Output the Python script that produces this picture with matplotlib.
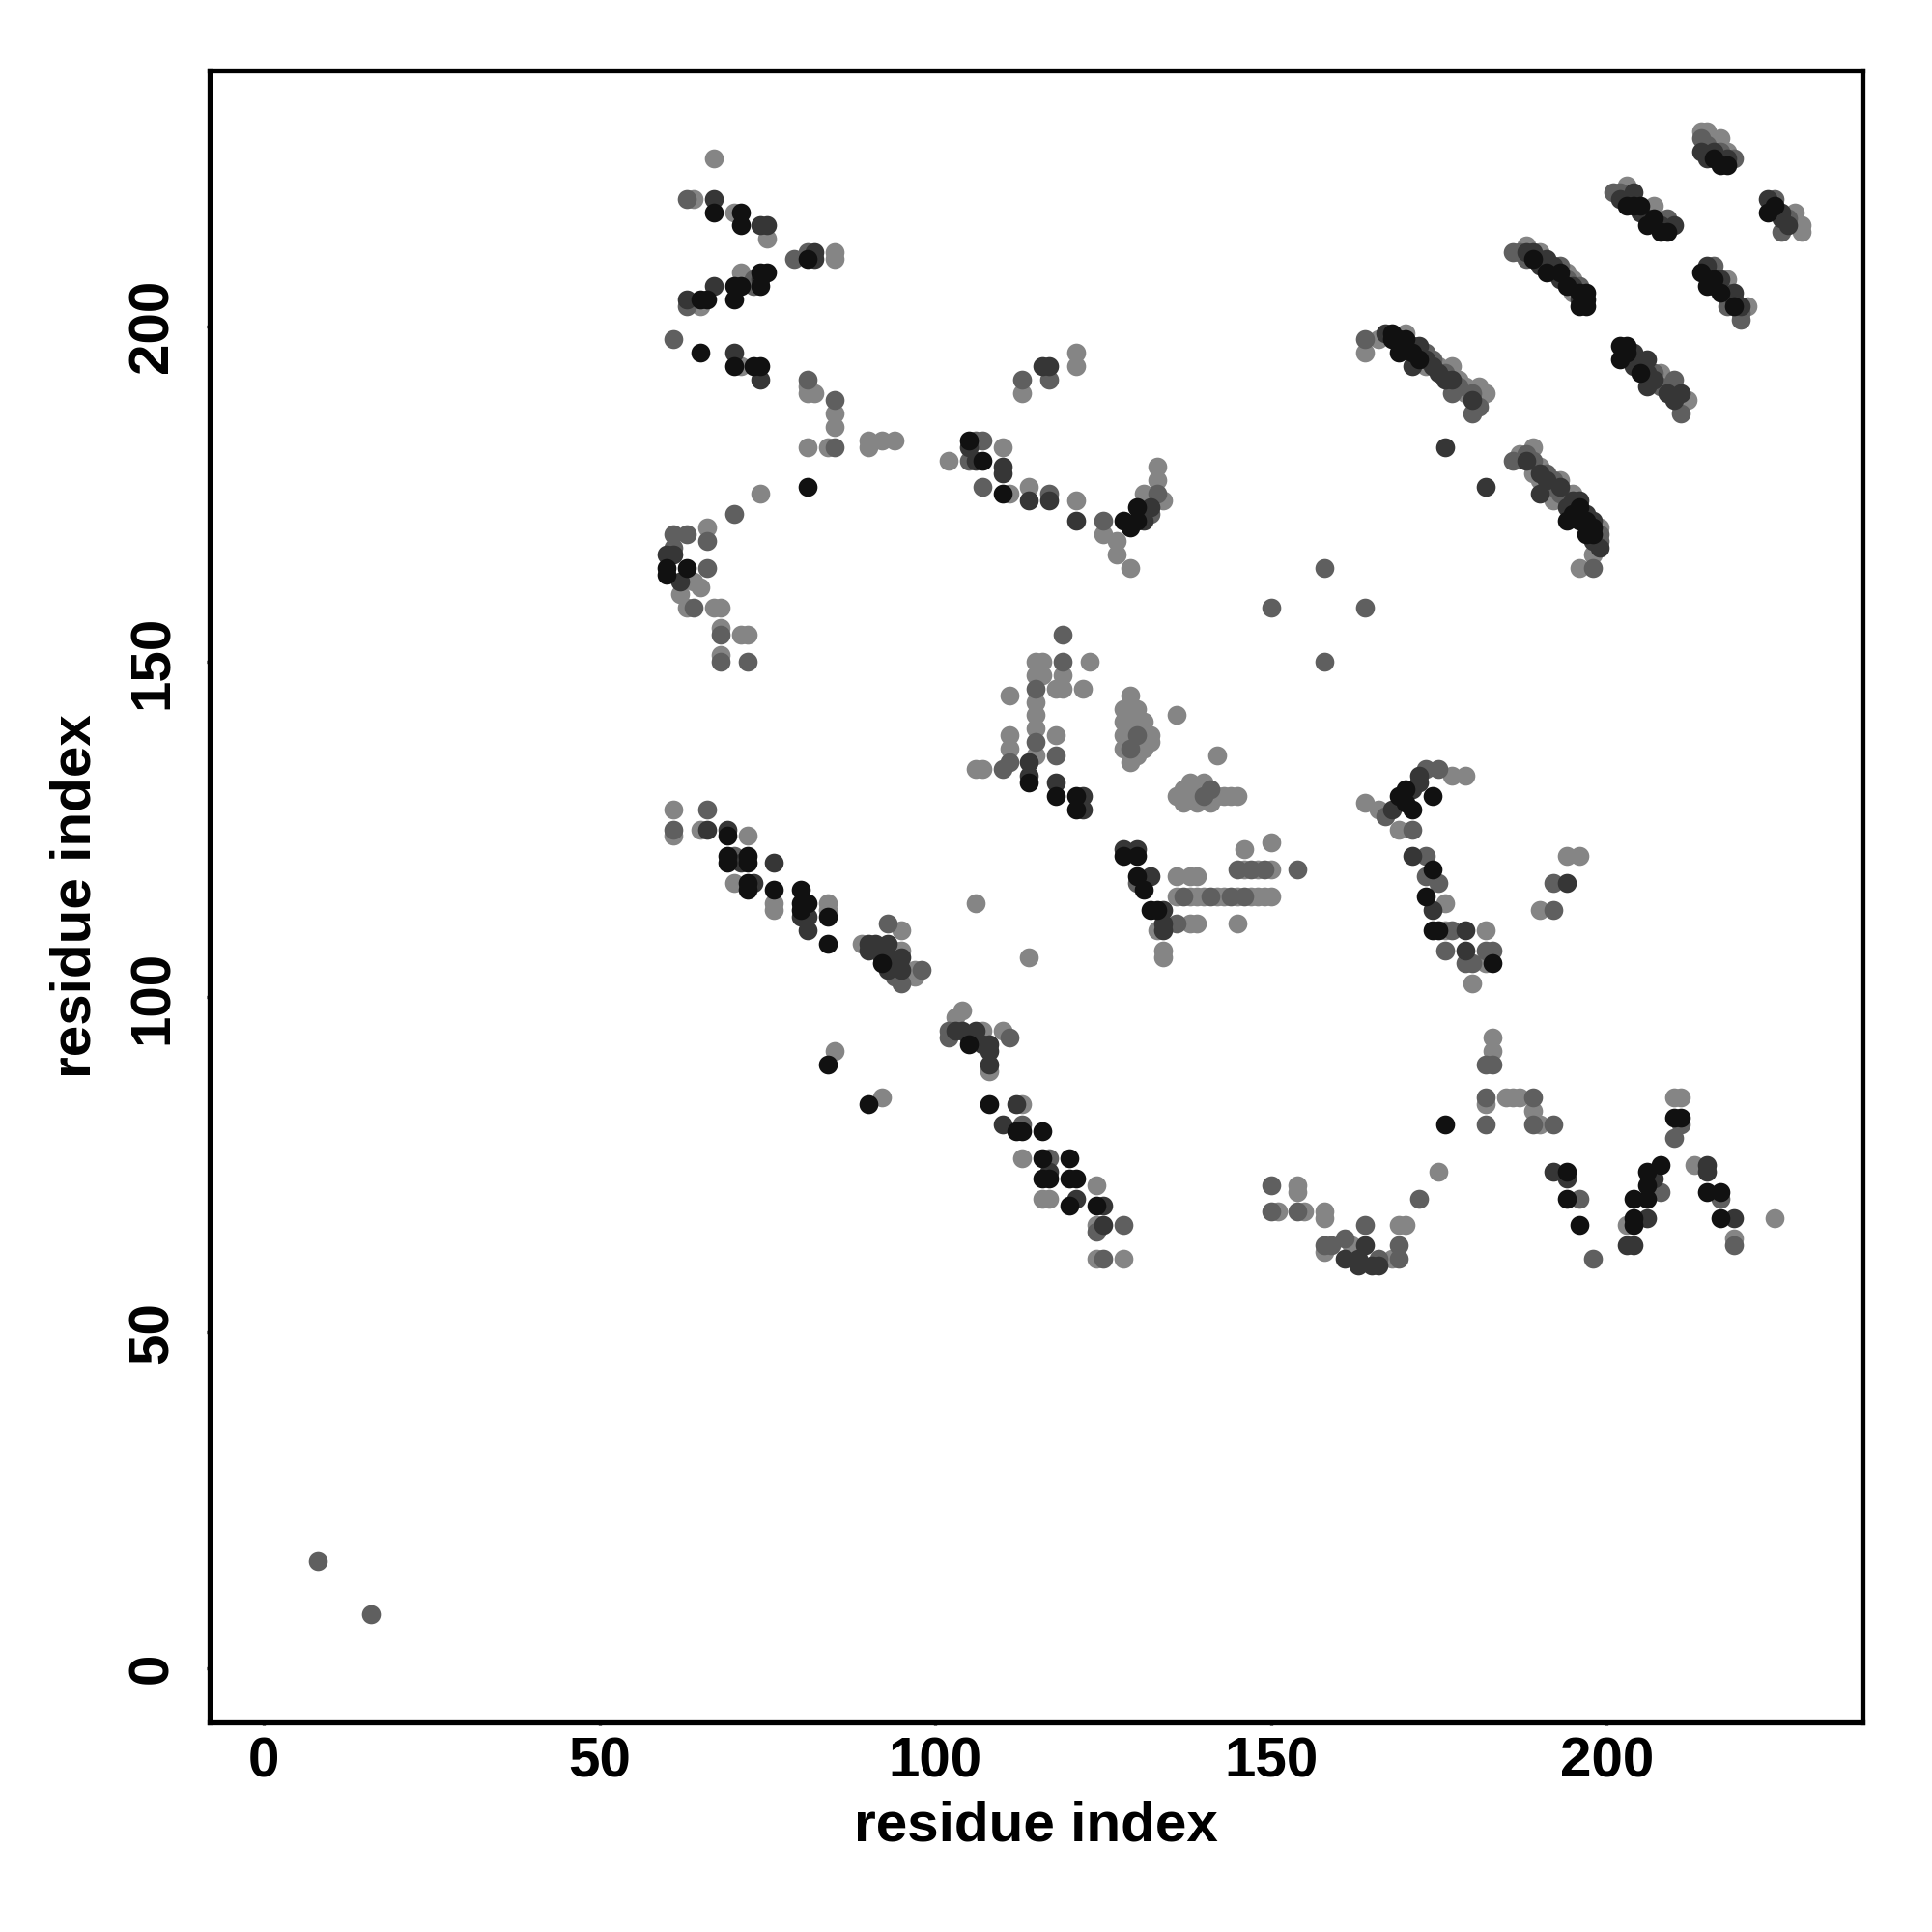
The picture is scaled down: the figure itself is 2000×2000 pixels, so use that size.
import matplotlib
matplotlib.use("Agg")
import matplotlib.pyplot as plt

# residue contact map: points grouped by contact score class
# (black = strongest ... light grey = weakest)
black_i = [67, 71, 71, 81, 74, 75, 70, 71, 74, 65, 66, 70,
           65, 70, 73, 74, 81,
           105, 107, 110, 128, 129, 130, 130,
           60, 60, 63,
           114, 118, 121, 121,
           128, 130, 130, 131, 133, 132,
           69, 69, 69, 72, 72, 72, 72, 76, 80, 80, 81, 80, 84, 84, 92, 105, 84, 90, 108, 112, 113, 116,
           116, 116, 120, 117, 120, 121, 120, 124,
           174, 175, 183, 176, 194, 194, 196, 204, 204, 204, 206, 206, 206, 208, 210, 211, 215, 217, 217,
           169, 170, 171, 174, 170, 173, 174,
           168, 169, 169, 171, 172, 168, 170,
           195, 196, 198, 194, 197, 196, 197, 198,
           191, 194, 196, 197, 196, 189, 193, 197, 197,
           202, 203, 202, 205, 203,
           203, 204, 206, 208, 205, 207, 209,
           216, 217, 218,
           224, 225,
           214, 215, 217, 216, 219]
black_j = [217, 217, 215, 210, 208, 208, 206, 206, 206, 204, 204, 204,
           196, 194, 194, 194, 176,
           183, 180, 175, 171, 170, 171, 173,
           164, 163, 164,
           132, 130, 130, 128,
           121, 121, 118, 116, 113, 113,
           124, 121, 120, 121, 120, 117, 116, 116, 116, 114, 114, 113, 112, 108, 105, 93, 90, 84, 84, 80, 80, 80,
           76, 73, 76, 73, 73, 73, 69, 69,
           110, 110, 105, 81, 74, 70, 66, 67, 66, 70, 70, 72, 74, 75, 82, 82, 71, 71, 67,
           130, 129, 128, 130, 131, 115, 119,
           199, 198, 196, 196, 195, 198, 198,
           172, 171, 170, 171, 169, 173, 171, 169,
           208, 206, 205, 205, 203, 210, 208, 204, 203,
           197, 197, 195, 193, 196,
           218, 218, 215, 214, 218, 216, 214,
           225, 224, 224,
           217, 218,
           208, 206, 205, 207, 203]

dark_i = [74, 75, 82, 82, 74, 67, 63, 67,
          70, 74,
          116, 117, 105, 106, 110, 110, 114, 117, 121, 131, 132,
          60, 61, 62,
          114, 114, 118, 122, 122,
          128, 130, 132, 134, 134, 134,
          66, 69, 71, 76, 73, 80, 81, 81, 90, 91, 93, 90, 92, 93, 93, 95, 95, 103, 104, 105, 106, 108,
          108, 108, 107, 112, 110, 117, 121, 125, 125,
          161, 163, 164, 163, 165, 166,
          174, 179, 179, 192, 194, 203, 204, 207, 206, 215, 215, 219,
          171, 172, 172, 168, 171, 194,
          170, 172, 171, 175, 176, 180, 176, 182, 167, 171, 173, 174, 177,
          190, 194, 196, 197, 199, 188, 190, 191, 193, 195, 198, 198,
          189, 190, 188, 191, 192, 193, 195, 196,
          206, 206, 209, 211, 204, 204, 206, 207, 210,
          204, 210, 202, 205, 208,
          214, 215, 216, 218,
          224, 226, 226, 227,
          215, 219, 217, 216, 219, 220]
dark_j = [215, 215, 210, 211, 207, 206, 204, 219,
          196, 192,
          194, 194, 182, 180, 179, 178, 174, 174, 171, 171, 173,
          166, 166, 162,
          135, 133, 132, 130, 128,
          122, 122, 118, 113, 111, 110,
          125, 125, 120, 120, 117, 112, 112, 110, 108, 108, 108, 107, 106, 106, 104, 106, 104, 95, 95, 94, 95, 93,
          92, 90, 93, 84, 81, 74, 70, 69, 66,
          61, 61, 63, 60, 60, 60,
          113, 110, 107, 74, 73, 63, 63, 73, 67, 75, 74, 67,
          131, 133, 132, 128, 121, 117,
          197, 197, 194, 193, 192, 189, 182, 176, 199, 197, 195, 194, 192,
          175, 173, 174, 172, 167, 180, 178, 177, 176, 174, 171, 168,
          211, 209, 211, 210, 209, 207, 206, 204,
          195, 191, 190, 190, 196, 194, 193, 192, 189,
          220, 215, 219, 217, 215,
          226, 225, 226, 225,
          219, 216, 217, 215,
          209, 204, 207, 206, 205, 203]

mid_i = [63, 79, 81, 73, 63, 73,
         61, 81, 85, 85, 70,
         113, 117, 106, 107, 105, 107, 117, 125, 132, 133,
         61, 63, 66, 61, 66, 64, 68, 68, 72,
         111, 110, 115, 115, 119, 119, 118,
         130, 129, 140, 141,
         130, 137, 141, 144, 146, 136, 145, 147, 149, 154,
         66, 61, 70, 93, 94, 95, 98, 102, 102, 111, 113, 117, 128, 124, 125,
         150, 150, 154, 158, 159, 161, 164, 166, 169, 169, 172,
         192, 177, 176, 182, 183, 179, 180, 182, 183, 182, 189, 182, 189, 192, 196, 198, 208, 211, 210, 217, 219,
         167, 173, 171, 175, 173, 173, 175, 192,
         158, 150, 164, 158,
         8, 16,
         164, 173, 174, 177, 180, 181, 172, 176, 178, 180,
         186, 188, 191, 192, 193, 199, 198, 189, 192, 194, 199,
         186, 188, 190, 193, 194, 187, 192, 196,
         204, 207, 210, 211, 205, 208, 210,
         201, 206, 209, 202,
         215, 219, 217, 214,
         225, 226, 227,
         216, 220, 218, 218, 220]
mid_j = [219, 210, 211, 207, 203, 206,
         198, 192, 189, 182, 172,
         192, 192, 183, 183, 180, 176, 175, 171, 172, 175,
         169, 169, 168, 167, 164, 158, 154, 150, 150,
         135, 134, 146, 138, 154, 150, 136,
         139, 137, 130, 131,
         117, 115, 115, 115, 115, 111, 119, 119, 119, 119,
         128, 125, 121, 111, 103, 102, 104, 95, 94, 94, 81, 76, 66, 65, 61,
         72, 68, 68, 63, 63, 64, 66, 61, 61, 63, 70,
         113, 110, 107, 107, 107, 105, 105, 90, 90, 85, 85, 81, 81, 81, 70, 61, 71, 81, 79, 70, 63,
         127, 134, 125, 134, 121, 118, 117, 117,
         164, 158, 158, 150,
         16, 8,
         198, 196, 195, 190, 187, 188, 196, 193, 191, 190,
         180, 181, 178, 176, 175, 168, 164, 180, 177, 174, 169,
         211, 210, 210, 209, 207, 211, 208, 206,
         195, 193, 192, 187, 194, 191, 190,
         220, 216, 216, 220,
         227, 225, 226, 228,
         219, 214, 216,
         209, 201, 203, 205, 202]

light_i = [67, 64, 70, 75, 85, 85, 71, 65,
           71, 81, 81, 82, 85, 85, 81, 84, 90, 92, 94, 90, 74,
           113, 121, 121, 102, 110, 111, 114, 121, 125, 127, 127, 129, 134, 133, 133, 131,
           66, 64, 65, 62, 63, 67, 68, 68, 71, 72, 68,
           111, 111, 111, 106, 107, 115, 115, 115, 115, 115, 115, 119, 119, 116, 116, 123, 122, 118, 118,
           129, 128, 129, 130, 128, 129, 130, 131, 128, 129, 131, 132, 128, 130, 131, 132, 129, 130, 136, 142,
           136, 137, 138, 139, 140, 142, 143, 144, 145, 137, 139, 141, 138,
           136, 138, 139, 136, 138, 139, 140, 142, 143, 145, 147, 148, 149, 150, 146, 150, 146, 148, 150,
           138, 139, 145, 133, 134, 134,
           61, 61, 65, 72, 70, 76, 84, 76, 84, 95, 89, 94, 95, 97, 97, 106, 114, 85, 92, 104, 103, 107,
           108, 110, 113, 113, 116, 117, 124, 124, 124, 128,
           151, 154, 154, 155, 158, 158, 158, 162, 168, 169, 170, 175,
           190, 176, 182, 182, 180, 183, 183, 182, 185, 186, 187, 189, 190, 203, 210, 211, 213, 219, 225,
           164, 166, 169, 177, 179, 176, 194, 196,
           164, 166, 170, 173, 177, 178, 179, 181, 182, 175, 179, 181,
           189, 189, 190, 193, 192, 195, 199, 198, 196, 187, 190, 194,
           188, 191, 195, 195, 190, 194,
           208, 212, 209, 211,
           203, 207,
           214, 215, 217, 216, 218,
           228, 229, 229, 228,
           218, 221]
light_j = [225, 219, 217, 213, 211, 210, 208, 203,
           194, 191, 190, 190, 187, 185, 182, 182, 183, 183, 183, 182, 175,
           190, 196, 194, 180, 182, 175, 176, 174, 169, 168, 166, 164, 174, 177, 179, 175,
           170, 162, 161, 160, 158, 158, 158, 155, 154, 154, 151,
           145, 139, 137, 134, 134, 150, 148, 144, 142, 140, 136, 148, 146, 150, 148, 150, 146, 146, 139,
           145, 143, 143, 143, 141, 141, 141, 141, 139, 139, 139, 139, 137, 137, 137, 138, 135, 136, 142, 136,
           130, 131, 132, 131, 132, 130, 130, 130, 130, 129, 129, 129, 130,
           118, 118, 118, 115, 115, 115, 115, 115, 115, 115, 115, 115, 115, 115, 122, 123, 119, 119, 119,
           111, 111, 111, 110, 107, 106,
           128, 124, 125, 124, 117, 114, 114, 113, 113, 110, 108, 107, 107, 104, 103, 114, 106, 92, 85, 98, 97, 95,
           89, 95, 84, 76, 70, 70, 72, 66, 61, 61,
           68, 72, 71, 68, 68, 67, 62, 63, 61, 66, 66, 74,
           113, 110, 110, 105, 102, 94, 92, 84, 85, 85, 85, 83, 81, 66, 85, 85, 75, 64, 67,
           129, 128, 125, 133, 133, 114, 121, 121,
           196, 198, 199, 194, 194, 192, 191, 191, 190, 194, 190, 189,
           182, 178, 177, 177, 174, 175, 170, 166, 164, 181, 179, 175,
           212, 209, 207, 205, 211, 208,
           193, 189, 191, 188,
           221, 218,
           229, 229, 228, 227, 226,
           217, 215, 214, 216,
           207, 203]

groups = [(light_i, light_j, "#858585"),
          (mid_i, mid_j, "#5f5f5f"),
          (dark_i, dark_j, "#363636"),
          (black_i, black_j, "#111111")]

plt.rcParams['font.family'] = ['Liberation Sans', 'DejaVu Sans']
plt.rcParams['font.weight'] = 'bold'

fig = plt.figure(figsize=(10, 10), dpi=200)
ax = fig.add_axes([0.1083, 0.1084, 0.8558, 0.8552])

for xs, ys, col in groups:
    ax.scatter(xs, ys, s=50, c=col, linewidths=0, zorder=3)

ax.set_xlim(-8.12, 238.12)
ax.set_ylim(-8.12, 238.12)
ax.set_xticks([0, 50, 100, 150, 200])
ax.set_yticks([0, 50, 100, 150, 200])

for sp in ax.spines.values():
    sp.set_linewidth(1.9)

ax.tick_params(axis='both', direction='out', length=1.2, width=1.2,
               labelsize=21)
ax.tick_params(axis='x', pad=4)
ax.tick_params(axis='y', pad=10)
for lab in ax.get_yticklabels():
    lab.set_rotation(90)
    lab.set_va('center')
    lab.set_fontweight('bold')
for lab in ax.get_xticklabels():
    lab.set_fontweight('bold')

ax.set_xlabel('residue index', fontsize=21, fontweight='bold')
ax.set_ylabel('residue index', fontsize=21, fontweight='bold')
ax.xaxis.set_label_coords(0.5, -0.0625)
ax.xaxis.label.set_va('center')
ax.yaxis.set_label_coords(-0.0805, 0.5)
ax.yaxis.label.set_va('center')

fig.savefig('out.png', dpi=200)
